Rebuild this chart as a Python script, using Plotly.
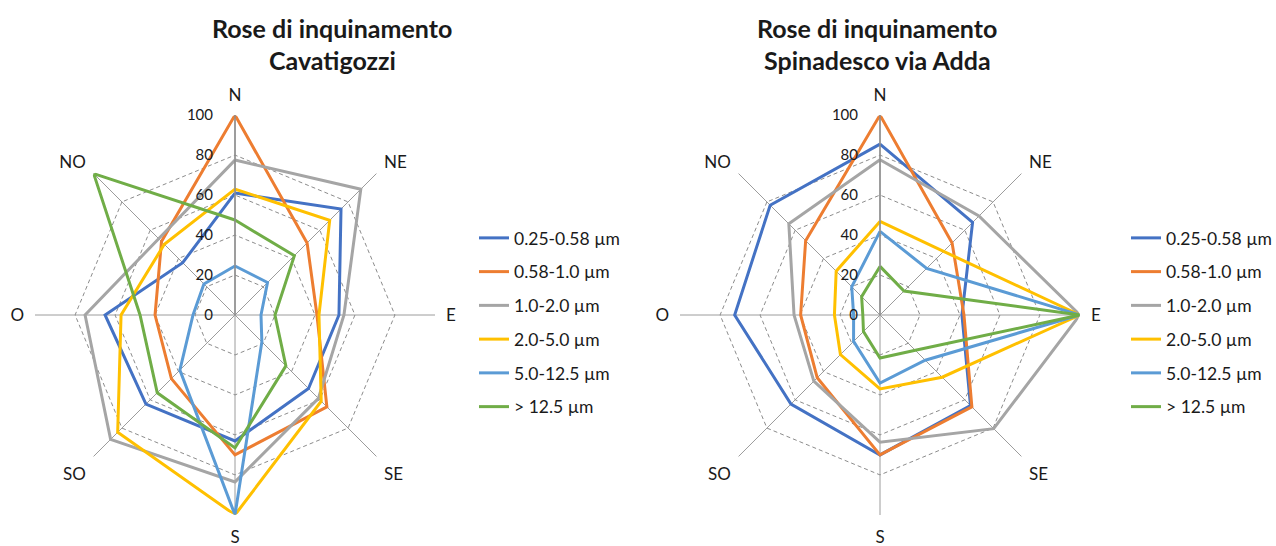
import plotly.graph_objects as go

# Wind sectors (clockwise from north, Italian labels)
directions = ["N", "NE", "E", "SE", "S", "SO", "O", "NO"]

# Particle size classes and their series colours
size_classes = ["0.25-0.58 µm", "0.58-1.0 µm", "1.0-2.0 µm",
                "2.0-5.0 µm", "5.0-12.5 µm", "> 12.5 µm"]
colors = ["#4472C4", "#ED7D31", "#A5A5A5", "#FFC000", "#5B9BD5", "#70AD47"]

# Cavatigozzi station, normalised concentration per sector
cav_025_058 = [61, 75, 52, 52, 63, 63, 65, 37]
cav_058_10 = [100, 51, 41, 65, 70, 45, 40, 52]
cav_10_20 = [77.5, 89, 54.5, 59, 83.5, 88, 75, 54]
cav_20_50 = [63, 67, 42, 61, 100, 83, 57, 50]
cav_50_125 = [24.5, 23, 13, 19, 100, 39, 21, 22]
cav_gt125 = [47.5, 42, 20, 36, 66.5, 55, 47.5, 100]

# Spinadesco via Adda station, normalised concentration per sector
spi_025_058 = [85.5, 65.5, 41, 64, 70, 63, 72.7, 77.7]
spi_058_10 = [100, 51, 42, 65, 70, 44.4, 39.7, 52.6]
spi_10_20 = [77.7, 70, 100, 80.4, 63.6, 46.8, 43, 64.5]
spi_20_50 = [46.8, 45, 100, 44, 37, 28, 22.8, 31]
spi_50_125 = [41.8, 33, 100, 32, 34, 18.7, 13.2, 20]
spi_gt125 = [24.3, 17, 100, 25, 21.5, 11.7, 8.6, 13]

radial_ticks = [0, 20, 40, 60, 80, 100]

stations = [
    ("polar", "legend",
     [cav_025_058, cav_058_10, cav_10_20, cav_20_50, cav_50_125, cav_gt125]),
    ("polar2", "legend2",
     [spi_025_058, spi_058_10, spi_10_20, spi_20_50, spi_50_125, spi_gt125]),
]

W, H = 1276, 546
FONT = "Lato"
TEXT = "#1a1a1a"
GRID = "#8c8c8c"

fig = go.Figure()

for subplot, legend_name, series in stations:
    for i, (name, values) in enumerate(zip(size_classes, series)):
        fig.add_trace(go.Scatterpolar(
            r=values + values[:1],
            theta=directions + directions[:1],
            mode="lines",
            name=name,
            line=dict(color=colors[i], width=3),
            subplot=subplot,
            legend=legend_name,
            legendgroup=f"{legend_name}_{i}",
            hoverinfo="skip",
        ))


def px_x(x):
    return x / W


def px_y(y):
    return 1 - y / H


def polar_layout(cx, cy, radius):
    return dict(
        domain=dict(x=[px_x(cx - radius), px_x(cx + radius)],
                    y=[px_y(cy + radius), px_y(cy - radius)]),
        gridshape="linear",
        bgcolor="rgba(0,0,0,0)",
        radialaxis=dict(
            # a hair above 100 so the outer dashed ring is drawn as a gridline
            range=[0, 100.05],
            tickvals=radial_ticks,
            angle=90,
            side="counterclockwise",
            tickangle=90,
            showline=True,
            linecolor="#8c8c8c",
            linewidth=1.5,
            # invisible ticks keep the labels clear of the north spoke
            ticks="outside",
            ticklen=16,
            tickcolor="rgba(0,0,0,0)",
            showgrid=True,
            gridcolor=GRID,
            gridwidth=1,
            griddash="4px,3px",
            tickfont=dict(family=FONT, size=15, color=TEXT),
        ),
        angularaxis=dict(
            type="category",
            categoryarray=directions,
            direction="clockwise",
            rotation=90,
            showline=False,
            ticks="outside",
            ticklen=7,
            tickcolor="rgba(0,0,0,0)",
            showgrid=True,
            gridcolor="#9c9c9c",
            gridwidth=1,
            tickfont=dict(family=FONT, size=17, color=TEXT),
        ),
    )


legend_common = dict(
    orientation="v",
    xanchor="left",
    yanchor="top",
    bgcolor="rgba(0,0,0,0)",
    font=dict(family=FONT, size=17.5, color=TEXT),
    tracegroupgap=8,
    itemclick=False,
    itemdoubleclick=False,
)

fig.update_layout(
    width=W,
    height=H,
    margin=dict(l=0, r=0, t=0, b=0, autoexpand=False),
    paper_bgcolor="white",
    plot_bgcolor="white",
    font=dict(family=FONT, color=TEXT),
    polar=polar_layout(235, 315, 200),
    polar2=polar_layout(880, 315, 200),
    legend=dict(x=px_x(474), y=px_y(220), **legend_common),
    legend2=dict(x=px_x(1126), y=px_y(220), **legend_common),
    showlegend=True,
)

titles = [
    (332, "Rose di inquinamento", "Cavatigozzi"),
    (877, "Rose di inquinamento", "Spinadesco via Adda"),
]
for cx, line1, line2 in titles:
    for text, cy in ((line1, 28), (line2, 60)):
        fig.add_annotation(
            x=px_x(cx), y=px_y(cy), xref="paper", yref="paper",
            text=f"<b>{text}</b>", showarrow=False,
            xanchor="center", yanchor="middle",
            font=dict(family=FONT, size=25, color=TEXT),
        )

fig.write_html("out.html")
